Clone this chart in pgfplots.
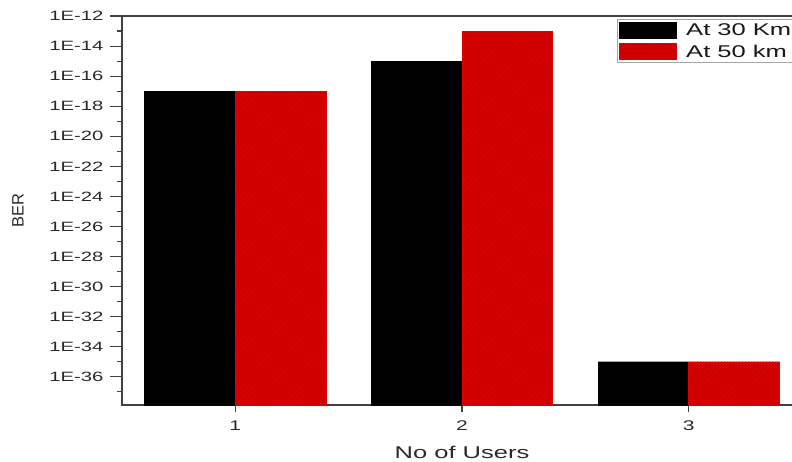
\documentclass[border=0pt]{standalone}
\usepackage{pgfplots}
\pgfplotsset{compat=1.18}
\usetikzlibrary{patterns}
\usepackage{fontspec}
\setmainfont[FakeStretch=1.5]{Liberation Sans}
\newfontfamily\plainsans{Liberation Sans}
\definecolor{txt}{HTML}{2A2A2A}
\definecolor{barred}{HTML}{E00000}
\definecolor{hatch}{HTML}{B00000}
\begin{document}
\begin{tikzpicture}
\path[use as bounding box] (-122pt,-57pt) rectangle (670pt,405pt);
\begin{axis}[
  at={(0pt,0pt)}, anchor=south west,
  scale only axis, width=680pt, height=389pt,
  xmin=0.5, xmax=3.5,
  ymode=log, ymin=1.32e-38, ymax=1e-12, log origin=infty,
  axis line style={draw=black!75, line width=1.1pt},
  tick align=outside, tick pos=left,
  major tick length=12pt, minor tick length=5pt,
  every tick/.style={draw=black!75, line width=1.1pt},
  xtick={1,2,3}, xticklabels={1,2,3},
  xtick style={/pgfplots/major tick length=7pt},
  ytick={1e-36,1e-34,1e-32,1e-30,1e-28,1e-26,1e-24,1e-22,1e-20,1e-18,1e-16,1e-14,1e-12},
  yticklabels={1E-36,1E-34,1E-32,1E-30,1E-28,1E-26,1E-24,1E-22,1E-20,1E-18,1E-16,1E-14,1E-12},
  minor ytick={1e-37,1e-35,1e-33,1e-31,1e-29,1e-27,1e-25,1e-23,1e-21,1e-19,1e-17,1e-15,1e-13},
  /pgf/number format/assume math mode=true,
  ticklabel style={font=\fontsize{13.5}{15}\selectfont, text=txt},
  xticklabel style={font=\fontsize{14}{16}\selectfont},
  yticklabel style={xshift=-3pt},
  xlabel={No of Users},
  xlabel style={at={(axis description cs:0.5,0)}, anchor=center, yshift=-47pt, font=\fontsize{17}{19}\selectfont, text=txt},
  ylabel={\plainsans\fontsize{16.5}{18}\selectfont BER},
  ylabel style={at={(axis description cs:0,0.5)}, anchor=center, yshift=104pt, text=txt, font=\plainsans\fontsize{16.5}{18}\selectfont},
  legend style={at={(axis description cs:0.728,0.992)}, anchor=north west, draw=black!35, line width=0.8pt,
    font=\fontsize{17}{20}\selectfont, text=black!90, inner sep=2pt, row sep=4pt,
    legend cell align=left},
  legend image code/.code={\draw[#1] (0pt,-8pt) rectangle (57pt,8pt); \path (64pt,0pt);},
]
\addplot[ybar, bar width=0.4, bar shift=-0.2, draw=black, fill=black]
  coordinates {(1,1e-17) (2,1e-15) (3,1e-35)};
\addlegendentry{At 30 Km}
\addplot[ybar, bar width=0.4, bar shift=0.2, draw=barred, fill=barred,
  postaction={pattern=north west lines, pattern color=hatch}]
  coordinates {(1,1e-17) (2,1e-13) (3,1e-35)};
\addlegendentry{At 50 km}
\end{axis}
\end{tikzpicture}
\end{document}
